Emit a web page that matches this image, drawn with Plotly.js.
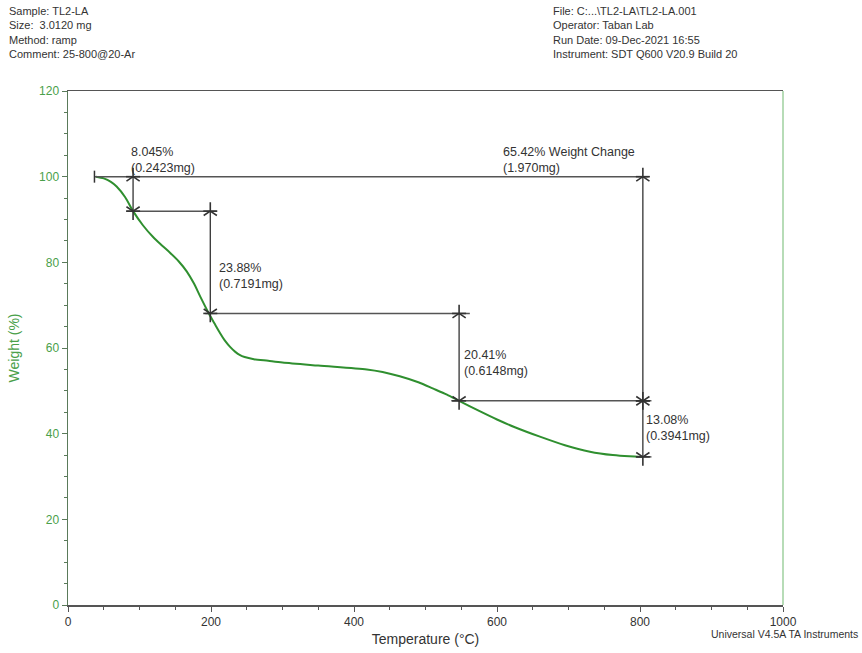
<!DOCTYPE html>
<html>
<head>
<meta charset="utf-8">
<script src="https://cdn.plot.ly/plotly-3.0.1.min.js"></script>
<style>html,body{margin:0;padding:0;background:#fff;}#chart{width:862px;height:653px;}</style>
</head>
<body>
<div id="chart"></div>
<script>
// TGA curve: temperature (°C) and weight (%)
const temperature = [39, 50, 60, 68, 80, 91, 105, 119, 131, 143, 155, 166, 176, 185, 197, 205, 213, 220, 227, 234, 240, 247, 260, 280, 300, 350, 418, 440, 464, 490, 511, 530, 547, 575, 600, 625, 660, 695, 730, 762, 785, 804];
const weight =      [100, 99.6, 98.8, 97.7, 95.2, 91.95, 88.6, 85.9, 84.0, 82.2, 80.2, 77.9, 75.1, 72.0, 68.07, 65.7, 63.4, 61.6, 60.2, 59.1, 58.4, 57.9, 57.4, 57.0, 56.6, 55.9, 55.0, 54.4, 53.4, 52.0, 50.5, 49.1, 47.66, 45.3, 43.3, 41.5, 39.3, 37.3, 35.8, 35.0, 34.7, 34.58];

// Step analysis
const stepLevels = [100, 91.955, 68.07, 47.66, 34.58];
const stepTemps  = [91, 199, 547, 804];
const stepLabels = ["8.045%<br>(0.2423mg)", "23.88%<br>(0.7191mg)", "20.41%<br>(0.6148mg)", "13.08%<br>(0.3941mg)"];
const totalLabel = "65.42% Weight Change<br>(1.970mg)";
// horizontal guide lines [x0, x1, level]
const hLines = [[37, 812, 100], [82, 208, 91.955], [192, 562, 68.07], [536, 816, 47.66], [795, 816, 34.58]];
// vertical arrows [x index, top level index, bottom level index]
const vArrows = [[0, 0, 1], [1, 1, 2], [2, 2, 3], [3, 0, 3], [3, 3, 4]];
const labelPos = [[86, 104], [208, 76.9], [551, 56.5], [806, 41.4]];
const totalPos = [605, 104];

const headerLeft = ["Sample: TL2-LA", "Size:  3.0120 mg", "Method: ramp", "Comment: 25-800@20-Ar"];
const headerRight = ["File: C:...\\TL2-LA\\TL2-LA.001", "Operator: Taban Lab", "Run Date: 09-Dec-2021 16:55", "Instrument: SDT Q600 V20.9 Build 20"];

const xTicks = [0, 200, 400, 600, 800, 1000];
const yTicks = [0, 20, 40, 60, 80, 100, 120];

const font = "Liberation Sans, Arial, sans-serif";
const grey = "#555555";
const dark = "#333333";
const green = "#2f8f2f";

const traces = [];
traces.push({x: temperature, y: weight, mode: "lines", line: {color: green, width: 2, shape: "spline", smoothing: 0.8}, hoverinfo: "skip"});
hLines.forEach(h => traces.push({x: [h[0], h[1]], y: [h[2], h[2]], mode: "lines", line: {color: grey, width: 1.5}, hoverinfo: "skip"}));
// start tick
traces.push({x: [37, 37], y: [98.6, 101.4], mode: "lines", line: {color: dark, width: 1.5}, hoverinfo: "skip"});
// vertical arrows with open chevron heads
const upX = [], upY = [], dnX = [], dnY = [];
vArrows.forEach(a => {
  const x = stepTemps[a[0]], yt = stepLevels[a[1]], yb = stepLevels[a[2]];
  traces.push({x: [x, x], y: [yt, yb], mode: "lines", line: {color: dark, width: 1.3}, hoverinfo: "skip"});
  upX.push(x); upY.push(yt); dnX.push(x); dnY.push(yb);
});
traces.push({x: upX, y: upY, mode: "markers", marker: {symbol: "y-up-open", size: 11, color: dark, line: {color: dark, width: 1.6}}, hoverinfo: "skip"});
traces.push({x: dnX, y: dnY, mode: "markers", marker: {symbol: "y-down-open", size: 11, color: dark, line: {color: dark, width: 1.6}}, hoverinfo: "skip"});
// cross ticks on levels
traces.push({x: upX.concat(dnX), y: upY.concat(dnY), mode: "markers", marker: {symbol: "line-ew-open", size: 10, color: dark, line: {color: dark, width: 1.6}}, hoverinfo: "skip"});

const annotations = [];
stepLabels.forEach((t, i) => annotations.push({x: labelPos[i][0], y: labelPos[i][1], xref: "x", yref: "y", text: t, showarrow: false, xanchor: "left", yanchor: "middle", align: "left", font: {family: font, size: 12.5, color: dark}}));
annotations.push({x: totalPos[0], y: totalPos[1], xref: "x", yref: "y", text: totalLabel, showarrow: false, xanchor: "left", yanchor: "middle", align: "left", font: {family: font, size: 12.5, color: dark}});

annotations.push({x: -0.085, y: 1.172, xref: "paper", yref: "paper", text: headerLeft.join("<br>"), showarrow: false, xanchor: "left", yanchor: "top", align: "left", font: {family: font, size: 11, color: dark}});
annotations.push({x: 0.676, y: 1.172, xref: "paper", yref: "paper", text: headerRight.join("<br>"), showarrow: false, xanchor: "left", yanchor: "top", align: "left", font: {family: font, size: 11, color: dark}});
annotations.push({x: 1.108, y: -0.057, xref: "paper", yref: "paper", text: "Universal V4.5A TA Instruments", showarrow: false, xanchor: "right", yanchor: "middle", font: {family: font, size: 10.5, color: dark}});

const layout = {
  width: 862, height: 653,
  margin: {l: 68, r: 79, t: 91, b: 48},
  paper_bgcolor: "#fff", plot_bgcolor: "#fff",
  showlegend: false,
  xaxis: {
    range: [0, 1000], tickvals: xTicks, ticktext: xTicks.map(String),
    ticks: "outside", ticklen: 5, tickwidth: 1, tickcolor: grey,
    minor: {dtick: 50, tick0: 0, ticks: "outside", ticklen: 3, tickcolor: grey},
    showgrid: false, zeroline: false,
    showline: true, linecolor: grey, linewidth: 1.5, mirror: true,
    tickfont: {family: font, size: 12, color: dark},
    title: {text: "Temperature (°C)", font: {family: font, size: 14, color: dark}, standoff: 6}
  },
  yaxis: {
    range: [0, 120], tickvals: yTicks, ticktext: yTicks.map(String),
    ticks: "outside", ticklen: 5, tickwidth: 1, tickcolor: "#5a7a5a",
    minor: {dtick: 5, tick0: 0, ticks: "outside", ticklen: 3, tickcolor: "#5a7a5a"},
    showgrid: false, zeroline: false,
    showline: true, linecolor: "#5a7a5a", linewidth: 1.5,
    tickfont: {family: font, size: 12, color: "#4aa04a"},
    title: {text: "Weight (%)", font: {family: font, size: 14, color: "#4aa04a"}, standoff: 16}
  },
  shapes: [
    {type: "line", xref: "paper", yref: "paper", x0: 1, x1: 1, y0: 0, y1: 1, line: {color: "#9fd09f", width: 1.5}}
  ],
  annotations: annotations
};

Plotly.newPlot("chart", traces, layout, {displayModeBar: false, staticPlot: true});
</script>
</body>
</html>
